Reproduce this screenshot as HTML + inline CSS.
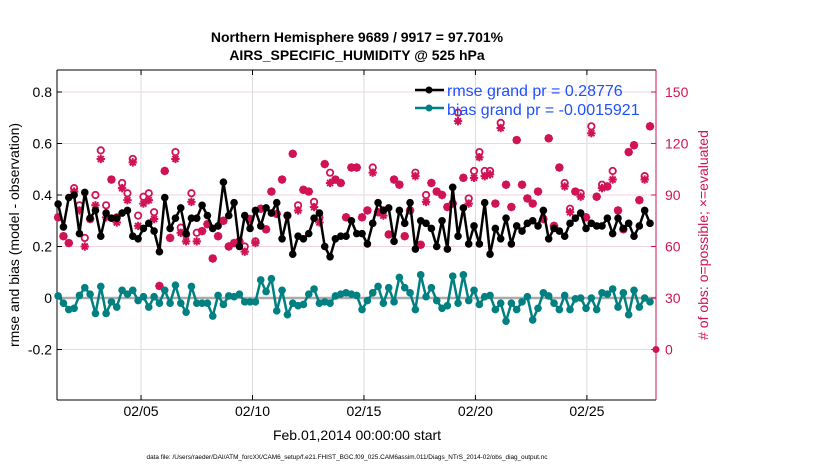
<!DOCTYPE html>
<html><head><meta charset="utf-8"><style>
body{margin:0;background:#fff;width:830px;height:470px;overflow:hidden;font-family:"Liberation Sans",sans-serif}
</style></head><body>
<svg id="chart" width="830" height="470" xmlns="http://www.w3.org/2000/svg" font-family="Liberation Sans, sans-serif">
<g id="grid"></g>
<g id="axes"></g>
<g id="marks"></g>
<text x="357" y="42" font-size="14" font-weight="bold" text-anchor="middle">Northern Hemisphere 9689 / 9917 = 97.701%</text>
<text x="357" y="60" font-size="14" font-weight="bold" text-anchor="middle">AIRS_SPECIFIC_HUMIDITY @ 525 hPa</text>
<text transform="translate(19,235) rotate(-90)" font-size="14" text-anchor="middle">rmse and bias (model - observation)</text>
<text transform="translate(708,235) rotate(-90)" font-size="14" fill="#d01357" text-anchor="middle"># of obs: o=possible; ×=evaluated</text>
<text x="357" y="440" font-size="14" text-anchor="middle">Feb.01,2014 00:00:00 start</text>
<text x="347" y="459" font-size="6.4" text-anchor="middle">data file: /Users/raeder/DAI/ATM_forcXX/CAM6_setup/f.e21.FHIST_BGC.f09_025.CAM6assim.011/Diags_NTrS_2014-02/obs_diag_output.nc</text>
<g>
<line x1="415" y1="90" x2="444" y2="90" stroke="#000" stroke-width="2.5"/><circle cx="429" cy="90" r="3.5" fill="#000"/>
<text x="447" y="96" font-size="16" fill="#1f4fff">rmse grand pr = 0.28776</text>
<line x1="415" y1="108" x2="444" y2="108" stroke="#008080" stroke-width="2.5"/><circle cx="429" cy="108" r="3.5" fill="#008080"/>
<text x="447" y="115" font-size="16" fill="#1f4fff">bias grand pr = -0.0015921</text>
</g>
</svg>
<script>
const rmse=[0.365,0.276,0.39,0.40,0.25,0.41,0.31,0.34,0.24,0.33,0.31,0.31,0.33,0.34,0.24,0.23,0.27,0.29,0.26,0.18,0.39,0.27,0.31,0.35,0.25,0.31,0.31,0.36,0.32,0.27,0.28,0.45,0.32,0.37,0.20,0.32,0.27,0.34,
0.28,0.35,0.33,0.37,0.23,0.32,0.17,0.24,0.23,0.25,0.31,0.33,0.20,0.16,0.23,0.24,0.24,0.30,0.25,0.25,0.21,0.29,0.37,0.34,0.35,0.22,0.34,0.29,0.37,0.19,0.30,0.29,0.27,0.20,0.30,0.19,0.43,0.24,
0.35,0.21,0.28,0.21,0.37,0.17,0.27,0.23,0.31,0.21,0.28,0.26,0.29,0.30,0.28,0.34,0.23,0.27,0.26,0.24,0.29,0.31,0.33,0.27,0.29,0.28,0.28,0.31,0.25,0.31,0.27,0.29,0.24,0.28,0.34,0.29];
const bias=[0.008,-0.02,-0.045,-0.04,0.01,0.04,0.015,-0.06,0.045,-0.06,-0.015,-0.035,0.03,0.015,0.03,-0.01,0.005,-0.035,0.005,-0.02,0.03,-0.02,0.05,-0.02,-0.055,0.045,-0.02,-0.02,-0.02,-0.07,0.01,-0.025,0.008,0.005,0.015,-0.015,-0.015,-0.015,
0.07,0.025,0.075,-0.05,0.03,-0.065,-0.02,-0.03,-0.025,0.015,0.035,-0.02,-0.015,-0.02,0.008,0.015,0.02,0.015,0.01,-0.045,-0.01,0.02,0.045,-0.02,0.04,-0.015,0.08,0.04,0.02,-0.045,0.09,0.005,0.04,-0.01,-0.04,-0.03,0.085,-0.02,
0.09,-0.01,0.03,-0.025,0.005,0.01,-0.045,-0.02,-0.09,-0.02,-0.045,-0.015,0.005,-0.085,-0.04,0.02,0.008,-0.02,-0.045,0.01,-0.045,-0.003,0,-0.04,0,-0.045,0.02,0.015,0.035,-0.035,0.02,-0.065,0.03,-0.035,0,-0.015];
const evaluated=[77,66,62,92,81,60,76,84,111,77,99,74,94,87,109,72,85,87,76,37,104,65,111,68,63,86,63,69,73,53,66,75,60,62,63,57,76,62,
82,70,92,79,99,78,114,81,93,92,83,74,108,97,99,97,77,106,106,77,81,103,80,78,67,99,96,66,81,101,61,86,97,92,90,83,85,133,
100,85,100,112,101,102,85,129,96,83,122,96,88,85,92,76,123,72,106,95,80,92,89,77,126,89,94,95,99,81,70,115,119,87,99,130];
const possible=[77,66,62,94,84,65,76,90,116,84,99,77,97,91,111,78,89,91,80,37,104,65,115,71,67,91,68,69,73,53,66,75,60,62,63,60,76,63,
82,70,92,79,99,78,114,84,93,92,86,77,108,103,99,97,77,106,106,77,81,106,80,81,67,99,96,66,81,103,61,90,97,92,90,83,85,138,
100,88,104,115,104,104,85,132,96,83,122,96,88,85,92,76,123,72,106,97,82,92,91,77,130,89,96,95,104,81,70,115,119,87,101,130];
const dayTicks=[5,10,15,20,25];
const dayLabels=["02/05","02/10","02/15","02/20","02/25"];
const leftTicks=[0.8,0.6,0.4,0.2,0,-0.2];
const rightTicks=[150,120,90,60,30,0];
const T0=1.28, DT=0.2392;
const X0=57,X1=656,Y0=70,Y1=400;
const dayMin=1.23, dayMax=28.1;
const xs=d=>X0+(d-dayMin)/(dayMax-dayMin)*(X1-X0);
const xi=i=>xs(T0+i*DT);
const yL=v=>298-v*257.5;
const yR=c=>yL(c/150-0.2);
const NS="http://www.w3.org/2000/svg";
function mk(tag,attrs,parent){const e=document.createElementNS(NS,tag);for(const k in attrs)e.setAttribute(k,attrs[k]);parent.appendChild(e);return e;}
const grid=document.getElementById('grid'),axes=document.getElementById('axes'),marks=document.getElementById('marks');
dayTicks.forEach((d,k)=>{const x=xs(d);
 const g=mk('line',{x1:x,x2:x,y1:Y0,y2:Y1,stroke:'#dcdcdc','stroke-width':1},grid);
 
 
 mk('line',{x1:x,x2:x,y1:Y1,y2:Y1-5,stroke:'#000'},axes);
 mk('line',{x1:x,x2:x,y1:Y0,y2:Y0+5,stroke:'#000'},axes);
 const t=mk('text',{x:x,y:Y1+16,'font-size':14,'text-anchor':'middle'},axes);t.textContent=dayLabels[k];
 
 
});
rightTicks.forEach(c=>{const y=yR(c);
 const g=mk('line',{x1:X0,x2:X1,y1:y,y2:y,stroke:'#f2d3de','stroke-width':1},grid);
 
 
 mk('line',{x1:X1,x2:X1-5,y1:y,y2:y,stroke:'#d01357'},axes);
 const t=mk('text',{x:X1+9,y:y+5,'font-size':14,fill:'#d01357'},axes);t.textContent=c;
 
 
});
leftTicks.forEach(v=>{const y=yL(v);
 mk('line',{x1:X0,x2:X0+5,y1:y,y2:y,stroke:'#000'},axes);
 const t=mk('text',{x:X0-5,y:y+5,'font-size':14,'text-anchor':'end'},axes);t.textContent=v===0?'0':String(v);
 
 
});
mk('line',{x1:X0,x2:X1,y1:Y0,y2:Y0,stroke:'#000'},axes);
mk('line',{x1:X0,x2:X1,y1:Y1,y2:Y1,stroke:'#000'},axes);
mk('line',{x1:X0,x2:X0,y1:Y0,y2:Y1,stroke:'#000'},axes);
mk('line',{x1:X1,x2:X1,y1:Y0,y2:Y1,stroke:'#d01357'},axes);
const zl=mk('line',{x1:X0,x2:X1,y1:yL(0),y2:yL(0),stroke:'#aaaaaa','stroke-width':2.5},grid);


possible.forEach((c,i)=>{const p=mk('circle',{cx:xi(i),cy:yR(c),r:3.2,fill:'none',stroke:'#d01357','stroke-width':1.8},marks);
 
 });
evaluated.forEach((c,i)=>{const x=xi(i),y=yR(c),s=4.2,d=3;
 const a=mk('path',{d:`M${x-s},${y}H${x+s}M${x},${y-s}V${y+s}M${x-d},${y-d}L${x+d},${y+d}M${x-d},${y+d}L${x+d},${y-d}`,stroke:'#d01357','stroke-width':2,fill:'none'},marks);
 
 });
const z=mk('circle',{cx:X1,cy:yR(0),r:3.5,fill:'#d01357'},marks);


function series(vals,col,name){
 const pl=mk('polyline',{points:vals.map((v,i)=>xi(i)+','+yL(v)).join(' '),fill:'none',stroke:col,'stroke-width':2.5,'stroke-linejoin':'round'},marks);
 
 
 vals.forEach((v,i)=>{const c=mk('circle',{cx:xi(i),cy:yL(v),r:3.8,fill:col},marks);
  
  });
}
series(bias,'#008080','bias');
series(rmse,'#000000','rmse');
</script>
</body></html>
